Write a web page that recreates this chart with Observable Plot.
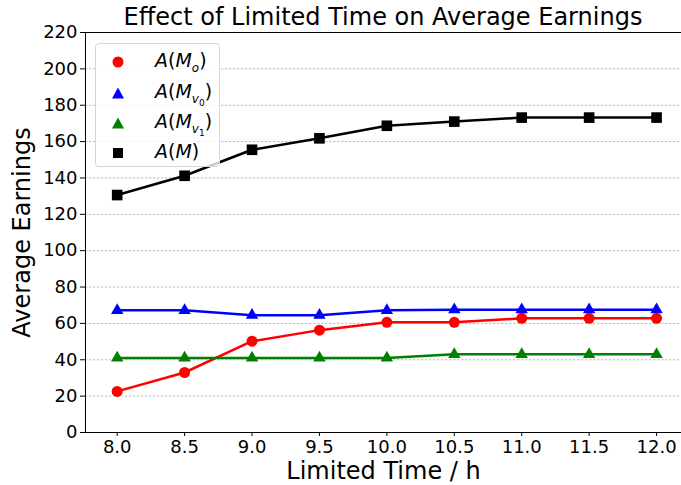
<!DOCTYPE html>
<html><head><meta charset="utf-8">
<script src="https://cdn.jsdelivr.net/npm/d3@7"></script>
<script src="https://cdn.jsdelivr.net/npm/@observablehq/plot@0.6"></script>
<style>
body{margin:0;background:#fff;font-family:"DejaVu Sans",sans-serif;}
#wrap{position:relative;width:681px;height:485px;overflow:hidden;}
#title{position:absolute;left:85px;width:596px;top:3px;text-align:center;font-size:24px;color:#000;}
#chart{position:absolute;left:0;top:0;}
#legend{position:absolute;left:95px;top:43px;width:125px;height:124px;border:1px solid #d6d6d6;border-radius:4px;background:rgba(255,255,255,0.8);box-sizing:border-box;}
.row{position:absolute;left:0;height:30px;width:124px;}
.row svg{position:absolute;left:15px;top:8px;}
.row .lab{position:absolute;left:59px;top:2px;font-size:19px;white-space:nowrap;}
.lab i{font-style:italic;}
.lab sub{font-size:12px;vertical-align:-5px;font-style:italic;}
.lab sub sub{font-size:9px;vertical-align:-3px;font-style:normal;}
</style></head>
<body>
<div id="wrap">
<div id="chart"></div>
<div id="title">Effect of Limited Time on Average Earnings</div>
<div id="legend">
 <div class="row" style="top:3px"><svg width="14" height="14"><circle cx="7" cy="7" r="5.5" fill="#ff0000"/></svg><span class="lab"><i>A</i>(<i>M</i><sub>o</sub>)</span></div>
 <div class="row" style="top:34px"><svg width="14" height="14"><path d="M7,1.5 L13,12.5 L1,12.5 Z" fill="#0000ff"/></svg><span class="lab"><i>A</i>(<i>M</i><sub>v<sub>0</sub></sub>)</span></div>
 <div class="row" style="top:64px"><svg width="14" height="14"><path d="M7,1.5 L13,12.5 L1,12.5 Z" fill="#008000"/></svg><span class="lab"><i>A</i>(<i>M</i><sub>v<sub>1</sub></sub>)</span></div>
 <div class="row" style="top:94px"><svg width="14" height="14"><rect x="2" y="2" width="10" height="10" fill="#000"/></svg><span class="lab"><i>A</i>(<i>M</i>)</span></div>
</div>
</div>
<script>
const times = [8.0, 8.5, 9.0, 9.5, 10.0, 10.5, 11.0, 11.5, 12.0];
const aMo  = [22.6, 33.0, 50.2, 56.3, 60.6, 60.6, 62.8, 62.8, 62.8];
const aMv0 = [67.2, 67.2, 64.5, 64.5, 67.2, 67.5, 67.5, 67.5, 67.5];
const aMv1 = [41.0, 41.0, 41.0, 41.0, 41.0, 43.0, 43.0, 43.0, 43.0];
const aM   = [130.6, 141.2, 155.5, 161.8, 168.7, 171.0, 173.2, 173.2, 173.2];
const yTicks = [0, 20, 40, 60, 80, 100, 120, 140, 160, 180, 200, 220];
const xTicks = times;

const seriesNames = ["Mo", "Mv0", "Mv1", "M"];
const seriesVals = [aMo, aMv0, aMv1, aM];
const seriesColors = ["#ff0000", "#0000ff", "#008000", "#000000"];
const seriesSymbols = ["circle", "triangle", "triangle", "square"];
const seriesR = [5.5, 4.6, 4.6, 6];

const marks = [
  Plot.gridY(yTicks, {stroke: "#b0b0b0", strokeOpacity: 1, strokeWidth: 0.8, strokeDasharray: "2.5,1.5"})
];
seriesNames.forEach((name, i) => {
  const rows = times.map((t, j) => ({t, v: seriesVals[i][j]}));
  marks.push(Plot.line(rows, {x: "t", y: "v", stroke: seriesColors[i], strokeWidth: 2.5}));
  marks.push(Plot.dot(rows, {x: "t", y: "v", fill: seriesColors[i], symbol: seriesSymbols[i], r: seriesR[i], stroke: "none"}));
});
marks.push(Plot.frame({anchor: "left", stroke: "#000", strokeWidth: 1}));
marks.push(Plot.frame({anchor: "bottom", stroke: "#000", strokeWidth: 1}));
marks.push(Plot.frame({anchor: "top", stroke: "#000", strokeWidth: 1}));
marks.push(Plot.axisX(xTicks, {tickFormat: d => d.toFixed(1), tickSize: 4, tickPadding: 4, fontSize: 18, label: null}));
marks.push(Plot.axisY(yTicks, {tickSize: 5, tickPadding: 3, fontSize: 18, label: null}));
marks.push(Plot.text(["Limited Time / h"], {frameAnchor: "bottom", dy: 46, fontSize: 24, textAnchor: "middle", lineAnchor: "bottom"}));
marks.push(Plot.text(["Average Earnings"], {frameAnchor: "left", dx: -63, rotate: -90, fontSize: 24, textAnchor: "middle"}));

const chart = Plot.plot({
  width: 681,
  height: 485,
  marginTop: 32,
  marginBottom: 53,
  marginLeft: 85,
  marginRight: 0,
  x: {domain: [7.765, 12.185], label: null},
  y: {domain: [0, 220], label: null},
  style: {fontFamily: "DejaVu Sans", fontSize: "18px", color: "#000", background: "transparent"},
  marks
});
document.getElementById("chart").appendChild(chart);
</script>
</body></html>
